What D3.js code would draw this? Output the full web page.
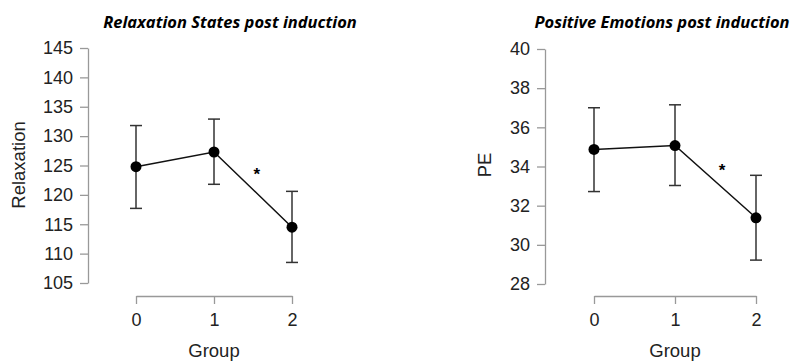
<!DOCTYPE html>
<html>
<head>
<meta charset="utf-8">
<script src="https://cdn.jsdelivr.net/npm/d3@7"></script>
<style>
  body { margin: 0; background: #fff; }
  .axis text { font-family: "Liberation Sans", Arial, sans-serif; font-size: 18px; fill: #222; }
  .axis path, .axis line { stroke: #999; stroke-width: 1.3px; }
</style>
</head>
<body>
<div id="chart"></div>
<script>
// groups on the x axis
var groups = [0, 1, 2]

// Relaxation panel (mean, lower and upper end of the error bar)
var relaxMean  = [124.8, 127.3, 114.5]
var relaxLower = [117.7, 121.8, 108.5]
var relaxUpper = [131.8, 132.9, 120.6]
var relaxTicks = [105, 110, 115, 120, 125, 130, 135, 140, 145]

// Positive emotions panel
var peMean  = [34.87, 35.07, 31.38]
var peLower = [32.72, 33.03, 29.22]
var peUpper = [37.0, 37.15, 33.55]
var peTicks = [28, 30, 32, 34, 36, 38, 40]

var width = 794,
    height = 362

var svg = d3.select("#chart")
  .append("svg")
    .attr("width", width)
    .attr("height", height)

var panels = [
  { title: "Relaxation States post induction", ylab: "Relaxation",
    mean: relaxMean, lower: relaxLower, upper: relaxUpper, ticks: relaxTicks,
    xr: [136, 292], yr: [283, 48], yaxisX: 88, titleX: 230, ylabX: 19, star: [1.55, 122.5] },
  { title: "Positive Emotions post induction", ylab: "PE",
    mean: peMean, lower: peLower, upper: peUpper, ticks: peTicks,
    xr: [594, 756], yr: [284, 49], yaxisX: 545, titleX: 662, ylabX: 485, star: [1.58, 33.5] }
]

panels.forEach(function(p) {
  var x = d3.scaleLinear().domain([0, 2]).range(p.xr)
  var y = d3.scaleLinear().domain(d3.extent(p.ticks)).range(p.yr)

  // axes
  svg.append("g")
    .attr("class", "axis")
    .attr("transform", "translate(" + p.yaxisX + ",0)")
    .call(d3.axisLeft(y).tickValues(p.ticks).tickSize(8).tickSizeOuter(0).tickPadding(7))

  svg.append("g")
    .attr("class", "axis")
    .attr("transform", "translate(0,296)")
    .call(d3.axisBottom(x).tickValues(groups).tickFormat(d3.format("d")).tickSize(8).tickSizeOuter(0).tickPadding(9))

  // title
  svg.append("text")
    .attr("x", p.titleX)
    .attr("y", 28)
    .attr("text-anchor", "middle")
    .style("font-family", "'Open Sans', sans-serif")
    .style("font-weight", "bold")
    .style("font-style", "italic")
    .style("font-size", "16.5px")
    .text(p.title)

  // axis labels
  svg.append("text")
    .attr("x", (p.xr[0] + p.xr[1]) / 2)
    .attr("y", 357)
    .attr("text-anchor", "middle")
    .style("font-family", "'Liberation Sans', Arial, sans-serif")
    .style("font-size", "18.5px")
    .style("fill", "#222")
    .text("Group")

  svg.append("text")
    .attr("transform", "translate(" + (p.ylabX + 6) + ",165) rotate(-90)")
    .attr("text-anchor", "middle")
    .style("font-family", "'Liberation Sans', Arial, sans-serif")
    .style("font-size", "18.5px")
    .style("fill", "#222")
    .text(p.ylab)

  var g = svg.append("g")

  // error bars
  var capW = 6
  groups.forEach(function(d, i) {
    g.append("line")
      .attr("x1", x(d)).attr("x2", x(d))
      .attr("y1", y(p.lower[i])).attr("y2", y(p.upper[i]))
      .attr("stroke", "#333").attr("stroke-width", 1.5)
    ;[p.lower[i], p.upper[i]].forEach(function(v) {
      g.append("line")
        .attr("x1", x(d) - capW).attr("x2", x(d) + capW)
        .attr("y1", y(v)).attr("y2", y(v))
        .attr("stroke", "#333").attr("stroke-width", 1.5)
    })
  })

  // line through means
  g.append("path")
    .datum(groups)
    .attr("fill", "none")
    .attr("stroke", "#111")
    .attr("stroke-width", 1.5)
    .attr("d", d3.line()
      .x(function(d) { return x(d) })
      .y(function(d, i) { return y(p.mean[i]) }))

  g.selectAll("circle")
    .data(groups)
    .enter()
    .append("circle")
      .attr("cx", function(d) { return x(d) })
      .attr("cy", function(d, i) { return y(p.mean[i]) })
      .attr("r", 5.5)
      .attr("fill", "#000")

  // significance star
  g.append("text")
    .attr("x", x(p.star[0]))
    .attr("y", y(p.star[1]))
    .attr("text-anchor", "middle")
    .style("font-family", "'Liberation Sans', Arial, sans-serif")
    .style("font-weight", "bold")
    .style("font-size", "17px")
    .text("*")
})
</script>
</body>
</html>
